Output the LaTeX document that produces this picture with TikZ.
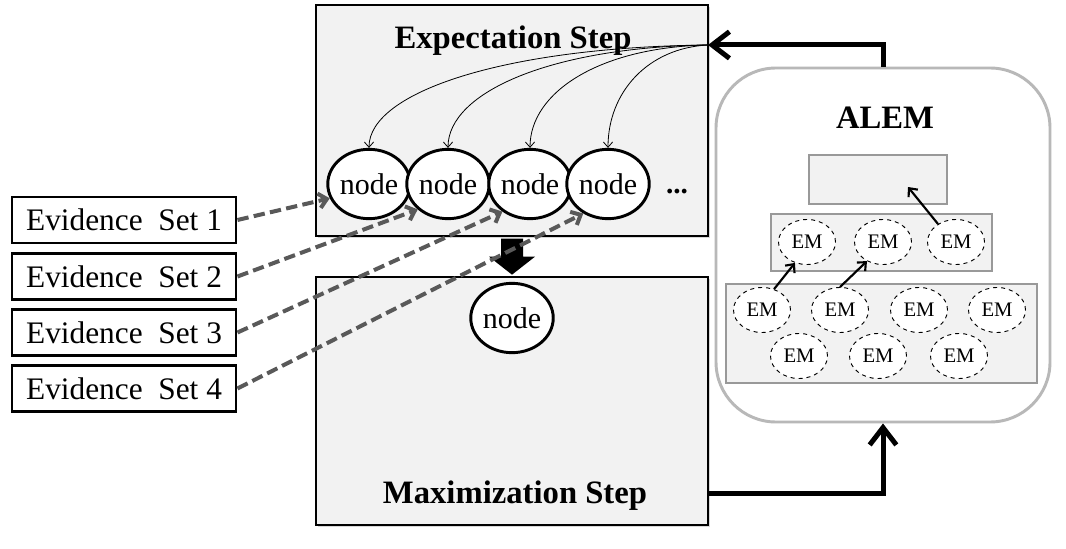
\documentclass[tikz,border=0pt]{standalone}
\usepackage{fontspec}
\setmainfont{Liberation Serif}
\usetikzlibrary{arrows.meta,shapes.geometric,shadows}
\begin{document}
\begin{tikzpicture}[x=0.75pt,y=-0.75pt,
  panel/.style={draw=black, line width=1pt, fill=black!5, drop shadow={shadow xshift=1.2pt,shadow yshift=-1.2pt,opacity=0.3}},
  evbox/.style={draw=black, line width=2.2pt, fill=white, minimum width=168pt, minimum height=34.5pt, inner sep=0pt, font=\fontsize{23.5}{26}\selectfont},
  circ/.style={ellipse, draw=black, line width=2.2pt, fill=white, minimum width=57pt, minimum height=52pt, inner sep=0pt, font=\fontsize{22.5}{24}\selectfont},
  em/.style={ellipse, draw=black, dashed, line width=0.7pt, fill=white, minimum width=42.75pt, minimum height=33.75pt, inner sep=0pt, font=\fontsize{15.5}{17}\selectfont},
  graybox/.style={draw=black!40, line width=0.8pt, fill=black!5, inner sep=0pt},
  title/.style={font=\bfseries\fontsize{24.5}{28}\selectfont},
  thinarrow/.style={draw=black, line width=0.6pt, -{Straight Barb[length=4pt,width=7pt]}},
  dasharrow/.style={draw=black!65, line width=3pt, dash pattern=on 8.5pt off 4pt, -{Straight Barb[length=6pt,width=11pt]}},
  bigarrow/.style={draw=black, line width=3.75pt, -{Straight Barb[length=13pt,width=20pt]}},
  emarrow/.style={draw=black, line width=1.6pt, -{Straight Barb[length=5pt,width=9pt]}}
]
\fill[white] (0,0) rectangle (1066,549);
\useasboundingbox (0,0) rectangle (1066,549);

% Expectation and Maximization panels
\node[panel, minimum width=294pt, minimum height=173.25pt, inner sep=0pt] (E) at (512,120.5) {};
\node[panel, minimum width=294pt, minimum height=186pt, inner sep=0pt] (M) at (512,401) {};
\node[title] (Et) at (513,41) {Expectation Step};
\node[title] (Mt) at (515,496) {Maximization Step};

% nodes
\node[circ] (n1) at (369,184) {node};
\node[circ] (n2) at (448,184) {node};
\node[circ] (n3) at (530,184) {node};
\node[circ] (n4) at (608,184) {node};
\node[font=\bfseries\fontsize{22}{24}\selectfont, anchor=base] (dots) at (677,193) {...};
\node[circ] (nm) at (512,318) {node};

% block arrow down
\fill[black] (E.south) ++(-11,2) -- ++(22,0) -- ++(0,18) -- ++(12,0) -- ++(-23,18) -- ++(-23,-18) -- ++(12,0) -- cycle;

% evidence sets
\node[evbox] (e1) at (124,220) {Evidence\ \ Set 1};
\node[evbox] (e2) at (124,276.5) {Evidence\ \ Set 2};
\node[evbox] (e3) at (124,332.5) {Evidence\ \ Set 3};
\node[evbox] (e4) at (124,388.5) {Evidence\ \ Set 4};
\draw[dasharrow] (e1.east) -- (n1.200);
\draw[dasharrow] (e2.east) -- (n2.220);
\draw[dasharrow] (e3.east) -- (n3.225);
\draw[dasharrow] (e4.east) -- (n4.230);

% ALEM
\node[draw=black!28, line width=2.2pt, fill=white, rounded corners=45pt, minimum width=250.5pt, minimum height=265.5pt, inner sep=0pt] (A) at (883,245) {};
\node[title] (At) at (885,118) {ALEM};
\node[graybox, minimum width=103.5pt, minimum height=36.75pt] (T) at (878,179.5) {};
\node[graybox, minimum width=165.75pt, minimum height=42.75pt] (Mid) at (881.5,242.5) {};
\node[graybox, minimum width=233.25pt, minimum height=74.25pt] (B) at (881.5,333.5) {};
\node[em] (m1) at (807,242) {EM};
\node[em] (m2) at (883,242) {EM};
\node[em] (m3) at (956,242) {EM};
\node[em] (b1) at (762,310) {EM};
\node[em] (b2) at (840,310) {EM};
\node[em] (b3) at (919,310) {EM};
\node[em] (b4) at (997,310) {EM};
\node[em] (b5) at (799,356) {EM};
\node[em] (b6) at (878,356) {EM};
\node[em] (b7) at (959,356) {EM};
\coordinate (tin) at (908,187);
\draw[emarrow] (m3.135) -- (tin);
\draw[emarrow] (b1.60) -- (m1.240);
\draw[emarrow] (b2.north) -- (m2.230);

% feedback loop
\coordinate (hub) at (708,45);
\draw[bigarrow] (A.north) |- (hub);
\draw[bigarrow] ([yshift=-69pt]M.east) -| (A.south);

% curved arrows from hub
\draw[thinarrow] (hub) .. controls (505,47) and (369,92) .. (n1.north);
\draw[thinarrow] (hub) .. controls (552,47) and (448,92) .. (n2.north);
\draw[thinarrow] (hub) .. controls (600,47) and (530,92) .. (n3.north);
\draw[thinarrow] (hub) .. controls (648,48) and (608,92) .. (n4.north);
\end{tikzpicture}
\end{document}
